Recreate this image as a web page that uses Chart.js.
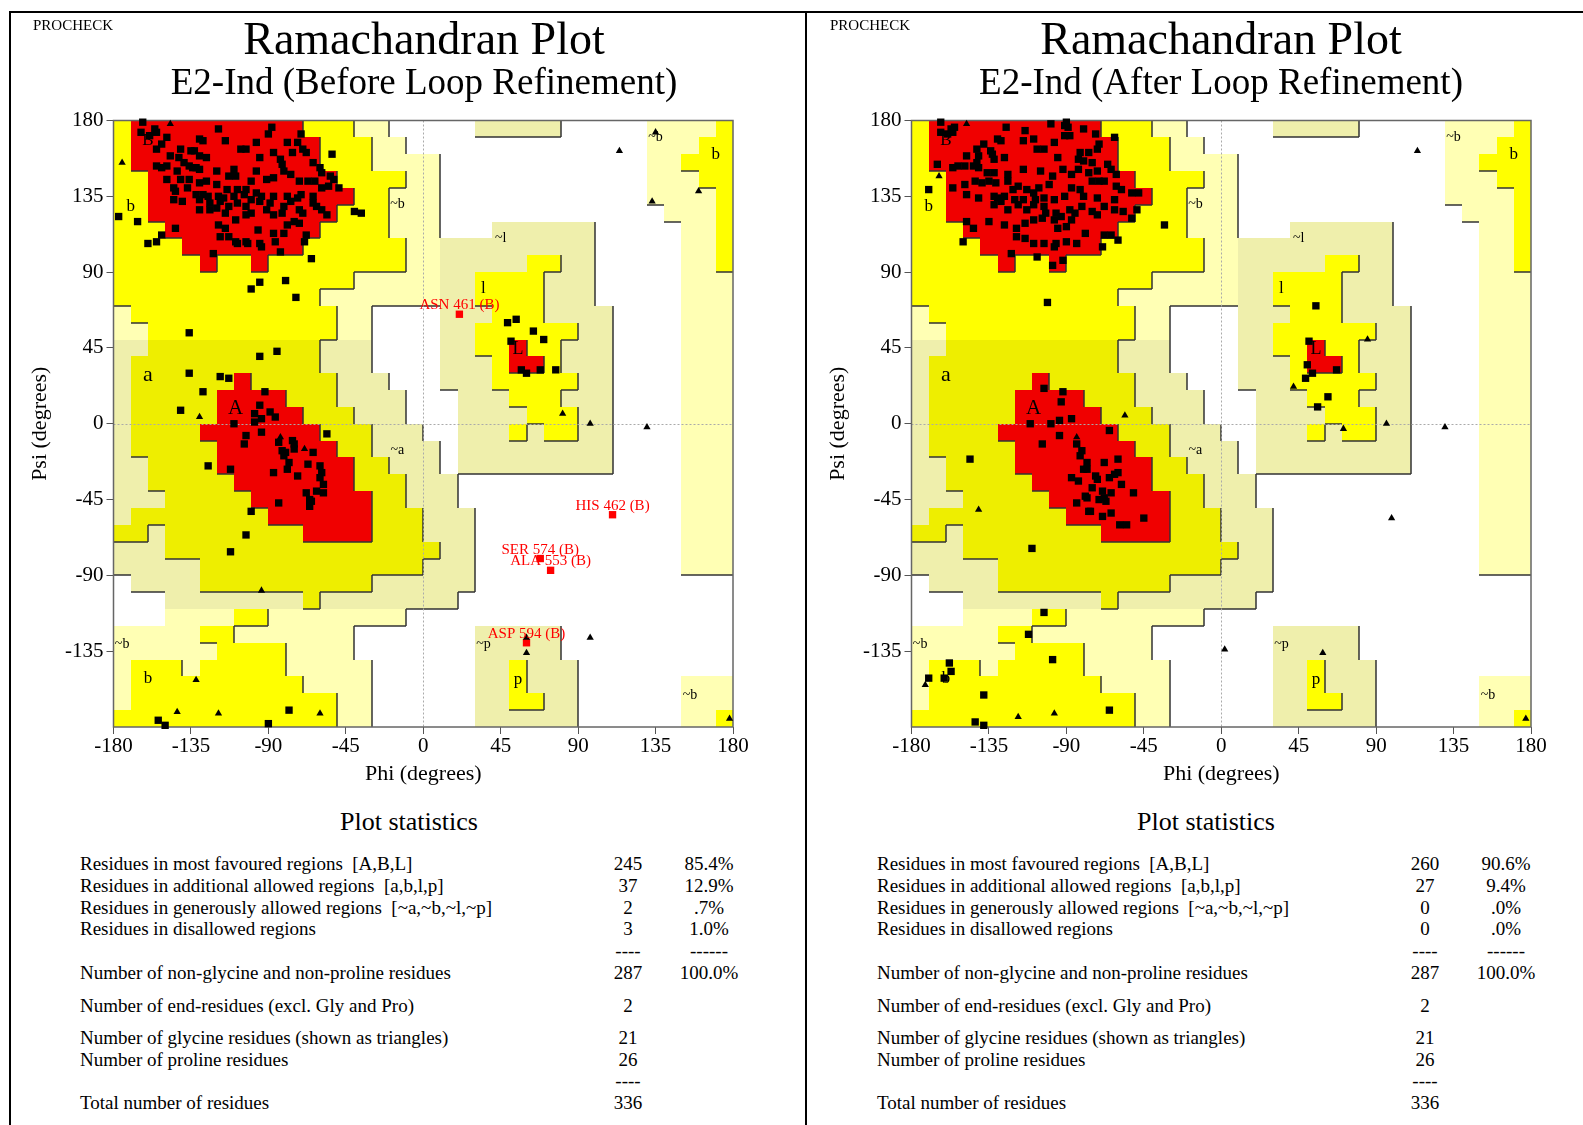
<!DOCTYPE html>
<html lang="en">
<head>
<meta charset="UTF-8">
<title>Ramachandran Plot</title>
<script src="https://cdn.jsdelivr.net/npm/chart.js"></script>
<style>
    body {
        margin: 0;
        background: #fff;
        font-family: "Liberation Serif", "Times New Roman", serif;
    }
    #page {
        position: relative;
        width: 1583px;
        height: 1125px;
        overflow: hidden;
    }
    #page canvas {
        position: absolute;
        top: 0;
    }
    .t {
        position: absolute;
        white-space: pre;
        line-height: 1;
        color: #000;
    }
    .rule {
        position: absolute;
        background: #000;
    }
</style>
</head>
<body>
<div id="page">
    <canvas id="before" width="800" height="800" style="left:0px"></canvas>
    <canvas id="after" width="800" height="800" style="left:798px"></canvas>
</div>

<script>
// ---- data ----
const phiTicks = [-180, -135, -90, -45, 0, 45, 90, 135, 180];
const psiTicks = [-135, -90, -45, 0, 45, 90, 135, 180];

// 10x10 degree cells, row 0 = psi 180..170, col 0 = phi -180..-170
// R core, Y/y allowed, P/K generous, . disallowed
const regionRows = [
    'YRRRRRRRRRRYYYPP.....KKKKK.....PPPPY',
    'YRRRRRRRRRRRYYYPP..............PPPYY',
    'YRRRRRRRRRRRYYYPPPP............PPYYY',
    'YYRRRRRRRRRRRYYYYPP............PPPYY',
    'YYRRRRRRRRRRRRYYPPP............PPPPY',
    'YYRRRRRRRRRRRYYYPPP.............PPPY',
    'YYYRRRRRRRRRYYYYPPP...KKKKKK.....PPY',
    'YYYYRRRRRRRYYYYYYPPKKKKKKKKK.....PPY',
    'YYYYYRYYRYYYYYYYYPPKKKKKYYKK.....PPY',
    'YYYYYYYYYYYYYYPPPPPKKYYYYKKK.....PPP',
    'YYYYYYYYYYYYPPPPPPPKKYYYYKKK.....PPP',
    'PYYYYYYYYYYYYPP....KKKYYYKKKK....PPP',
    'PPYYYYYYYYYYYPP....KKYYYYYYKK....PPP',
    'KKyyyyyyyyyyKKK....KKYYRYYKKK....PPP',
    'KyyyyyyyyyyyKKK....KKKYRRYKKK....PPP',
    'KyyyyyyRyyyyyKKK...KKKYYYYYKK....PPP',
    'KyyyyyRRRRyyyKKKK...KKKYYYKKK....PPP',
    'KyyyyyRRRRRyyyKKK...KKKKYYYKK....PPP',
    'KyyyyRRRRRRRyyyKKK..KKKYKYYKK....PPP',
    'KyyyyyRRRRRRRyyKKKK.KKKKKKKKK....PPP',
    'KKyyyyRRRRRRRRyyKKK.KKKKKKKKK....PPP',
    'KKyyyyyRRRRRRRyyyKKK.............PPP',
    'KKKyyyyyRRRRRRRyyKKK.............PPP',
    'KyyyyyyyyRRRRRRyyyKKK............PPP',
    'yyKyyyyyyyyRRRRyyyKKK............PPP',
    'KKKyyyyyyyyyyyyyyyyKK............PPP',
    'KKKKKyyyyyyyyyyyyyKKK............PPP',
    '.KKKKyyyyyyyyyyKKKKKK...............',
    '...KKKKKKKKyKKKKKKKK................',
    '...PPPPYYPPPPPPPP...................',
    'PPPPPYYPPPPPPP.......KKKKK..........',
    'PPPPPPYYYYPPPP.......KKKKK..........',
    'PYYYPYYYYYPPPPP......KKYKKK.........',
    'PYYYYYYYYYYPPPP......KKYKKK......PPP',
    'PYYYYYYYYYYYYPP......KKYYKK......PPP',
    'YYYYYYYYYYYYYPP......KKKKKK......PPY'
];

// region tags: [text, phi, psi]
const regionTags = [
    ['B', -160, 168], ['b', -170, 129], ['~b', -15, 130], ['a', -160, 29],
    ['A', -109, 9], ['~a', -15, -16], ['~l', 45, 110], ['l', 35, 80],
    ['L', 55, 44], ['~b', 135, 170], ['b', 170, 160], ['~b', -175, -131],
    ['b', -160, -151], ['~p', 35, -131], ['p', 55, -152], ['~b', 155, -161]
];

// before loop refinement: non-Gly residues [phi, psi]
const beforeSheet = [
    [-156,175],[-155,173],[-164,173],[-159,171],[-149,170],[-119,175],[-88,176],[-90,172],[-115,168],[-97,167],
    [-79,167],[-71,172],[-73,167],[-130,169],[-128,168],[-152,166],[-106,163],[-103,163],[-70,163],[-68,161],
    [-155,163],[-147,159],[-141,163],[-135,162],[-133,162],[-142,158],[-126,158],[-130,159],[-95,158],[-87,161],
    [-76,161],[-83,157],[-82,154],[-64,155],[-155,153],[-152,152],[-149,153],[-136,153],[-134,152],[-132,152],
    [-130,151],[-139,155],[-143,150],[-120,150],[-110,151],[-97,150],[-109,147],[-113,147],[-81,150],[-77,148],
    [-60,152],[-54,147],[-52,145],[-59,149],[-149,145],[-141,145],[-136,145],[-130,143],[-126,144],[-120,142],
    [-114,139],[-108,139],[-103,139],[-100,144],[-91,145],[-87,146],[-72,144],[-67,144],[-63,144],[-49,140],
    [-145,140],[-144,138],[-137,140],[-132,136],[-128,136],[-125,135],[-119,135],[-116,134],[-110,135],[-104,136],
    [-97,137],[-94,135],[-87,135],[-79,135],[-73,134],[-64,135],[-55,141],[-59,140],[-71,136],[-145,133],
    [-140,132],[-130,133],[-124,131],[-118,132],[-113,129],[-108,131],[-103,129],[-100,133],[-95,132],[-89,131],
    [-81,129],[-77,132],[-72,127],[-62,129],[-59,127],[-56,124],[-130,127],[-124,127],[-120,128],[-115,125],
    [-109,121],[-103,124],[-100,125],[-91,127],[-87,124],[-82,125],[-75,120],[-70,125],[-64,131],[-119,118],
    [-115,116],[-118,111],[-113,111],[-109,108],[-108,107],[-103,108],[-96,115],[-95,107],[-94,105],[-87,113],
    [-86,108],[-81,113],[-79,118],[-72,119],[-68,112],[-69,108],[-83,102],[-102,107]
];
const beforeOther = [
    [-163,179],[-177,123],[-166,120],[-160,107],[-155,108],[-152,112],[-144,116],[-122,101],[-100,80],[-95,84],
    [-80,85],[-74,75],[-65,98],[-53,160],[-40,126],[-36,125],[-136,54],[-95,40],[-85,43],[-136,30],
    [-118,28],[-113,27],[-128,19],[-141,8],[-154,-176],[-150,-179],[-90,-178],[-78,-170],
    [49,60],[54,62],[64,55],[70,50],[51,49],[57,32],[60,30],[68,32],[77,32]
];
const beforeHelix = [
    [-110,0],[-98,6],[-94,3],[-89,7],[-86,4],[-98,1],[-103,-7],[-104,-12],[-94,-5],[-84,-11],
    [-76,-10],[-75,-12],[-75,-15],[-82,-16],[-81,-19],[-80,-17],[-64,-17],[-56,-6],[-125,-25],[-112,-27],
    [-78,-23],[-79,-27],[-87,-29],[-73,-31],[-67,-24],[-60,-25],[-59,-29],[-60,-32],[-58,-36],[-62,-40],
    [-68,-41],[-58,-41],[-66,-45],[-65,-46],[-66,-49],[-84,-47],[-100,-52],[-103,-66],[-112,-76],[-92,19],
    [-95,11]
];
const beforeGly = [
    [-147,178],[-175,155],[-130,4],[-83,-8],[-69,-15],[-94,-99],[-132,-152],[-143,-171],[-119,-172],[-60,-172],
    [135,173],[114,162],[133,132],[160,138],[81,6],[97,0],[130,-2],[97,-127],[60,-136],[60,-127],[178,-175]
];
const beforeFlagged = [[21,65],[110,-54],[68,-80],[74,-87],[60,-130]];
const beforeFlaggedNames = ['ASN 461 (B)', 'HIS 462 (B)', 'SER 574 (B)', 'ALA 553 (B)', 'ASP 594 (B)'];

// after loop refinement
const afterSheet = [
    [-157,175],[-156,173],[-155,176],[-163,173],[-159,172],[-125,176],[-114,174],[-99,178],[-91,177],[-89,176],
    [-88,171],[-80,175],[-73,172],[-115,168],[-109,169],[-97,167],[-91,171],[-130,169],[-128,168],[-138,166],
    [-142,163],[-62,170],[-163,179],[-90,179],[-148,159],[-141,159],[-142,155],[-134,162],[-133,160],[-132,157],
    [-126,158],[-107,163],[-103,163],[-95,158],[-82,161],[-77,161],[-83,157],[-80,156],[-72,163],[-71,166],
    [-75,155],[-66,154],[-156,152],[-153,153],[-149,153],[-144,153],[-141,152],[-136,149],[-132,149],[-124,148],
    [-115,151],[-105,150],[-98,147],[-92,151],[-87,148],[-83,151],[-77,149],[-72,150],[-64,151],[-61,148],
    [-165,154],[-170,139],[-156,140],[-149,142],[-143,144],[-139,143],[-135,144],[-131,143],[-124,144],[-121,139],
    [-118,141],[-113,139],[-109,137],[-106,140],[-100,142],[-87,140],[-82,139],[-75,144],[-71,144],[-68,144],
    [-61,141],[-58,139],[-52,137],[-48,137],[-148,136],[-141,134],[-132,135],[-130,134],[-128,132],[-126,135],
    [-120,133],[-115,133],[-108,133],[-103,134],[-97,133],[-91,135],[-80,135],[-72,134],[-62,133],[-132,130],
    [-124,127],[-118,130],[-113,127],[-109,130],[-103,129],[-102,125],[-96,125],[-93,123],[-88,127],[-85,125],
    [-81,129],[-75,126],[-72,124],[-68,129],[-62,127],[-57,126],[-52,122],[-49,127],[-148,120],[-144,116],
    [-135,120],[-126,118],[-119,116],[-114,119],[-109,121],[-104,122],[-97,121],[-95,116],[-90,117],[-87,121],
    [-119,111],[-114,110],[-109,107],[-103,107],[-97,105],[-96,107],[-90,108],[-84,107],[-79,113],[-68,112],
    [-64,112],[-60,109],[-69,105],[-150,108],[-122,101],[-107,99],[-98,94],[-92,97]
];
const afterOther = [
    [-33,118],[-101,72],[-103,21],[-92,19],[-93,13],
    [-103,-112],[-112,-125],[-98,-140],[-158,-142],[-157,-147],[-170,-151],[-161,-151],[-138,-161],[-65,-170],[-143,-177],
    [-138,-179],[55,70],[51,49],[50,35],[53,30],[49,27],[67,32],[62,16],[56,10]
];
const afterHelix = [
    [-111,0],[-99,0],[-94,2],[-87,3],[-65,-4],[-94,-7],[-84,-12],[-104,-12],[-81,-16],[-82,-19],
    [-78,-23],[-68,-23],[-60,-21],[-80,-27],[-78,-27],[-87,-32],[-83,-34],[-73,-31],[-72,-33],[-65,-32],
    [-62,-30],[-60,-29],[-58,-36],[-75,-38],[-79,-43],[-78,-44],[-69,-40],[-68,-44],[-64,-41],[-71,-45],
    [-67,-46],[-84,-47],[-77,-52],[-76,-52],[-69,-55],[-64,-53],[-59,-60],[-55,-60],[-51,-41],[-45,-56],
    [-146,-21],[-110,-74]
];
const afterGly = [
    [-148,178],[-164,147],[-84,-8],[-141,-51],[-56,5],[-172,-155],[-118,-174],[-97,-172],[114,162],[85,50],
    [42,22],[96,0],[130,-2],[71,-3],[99,-56],[2,-134],[59,-136],[177,-175]
];

// plot statistics
const statLabels = [
    'Residues in most favoured regions  [A,B,L]',
    'Residues in additional allowed regions  [a,b,l,p]',
    'Residues in generously allowed regions  [~a,~b,~l,~p]',
    'Residues in disallowed regions',
    'Number of non-glycine and non-proline residues',
    'Number of end-residues (excl. Gly and Pro)',
    'Number of glycine residues (shown as triangles)',
    'Number of proline residues',
    'Total number of residues'
];
const beforeCounts = ['245', '37', '2', '3', '287', '2', '21', '26', '336'];
const beforePercents = ['85.4%', '12.9%', '.7%', '1.0%', '100.0%'];
const afterCounts = ['260', '27', '0', '0', '287', '2', '21', '26', '336'];
const afterPercents = ['90.6%', '9.4%', '.0%', '.0%', '100.0%'];

// ---- styles ----
const FONT = '"Liberation Serif", "Times New Roman", serif';
const regionColours = { R: '#f00000', Y: '#ffff00', y: '#eeee00', P: '#ffffb4', K: '#efefac' };
const regionLevel = { R: 3, Y: 2, y: 2, P: 1, K: 1, '.': 0 };
const tagSizes = { B: 17, A: 21, a: 22, b: 17, L: 18, l: 17, p: 17 };

Chart.defaults.font.family = FONT;

function regionPlugin(flagged, names) {
    return {
        id: 'regions',
        beforeDatasetsDraw(chart) {
            const { ctx, chartArea: a, scales: { x, y } } = chart;
            const px = v => Math.round(x.getPixelForValue(v));
            const py = v => Math.round(y.getPixelForValue(v));
            ctx.save();
            regionRows.forEach((row, r) => {
                for (let c = 0; c < row.length; c++) {
                    const col = regionColours[row[c]];
                    if (!col) continue;
                    const x0 = px(-180 + 10 * c), x1 = px(-170 + 10 * c);
                    const y0 = py(180 - 10 * r), y1 = py(170 - 10 * r);
                    ctx.fillStyle = col;
                    ctx.fillRect(x0, y0, x1 - x0, y1 - y0);
                }
            });
            // dark edges on the lower/right side of higher regions
            ctx.strokeStyle = '#333';
            ctx.lineWidth = 1.5;
            ctx.beginPath();
            regionRows.forEach((row, r) => {
                for (let c = 0; c < row.length; c++) {
                    const lv = regionLevel[row[c]];
                    if (c < row.length - 1 && lv > regionLevel[row[c + 1]]) {
                        const xx = px(-170 + 10 * c);
                        ctx.moveTo(xx, py(180 - 10 * r));
                        ctx.lineTo(xx, py(170 - 10 * r));
                    }
                    if (r < regionRows.length - 1 && lv > regionLevel[regionRows[r + 1][c]]) {
                        const yy = py(170 - 10 * r);
                        ctx.moveTo(px(-180 + 10 * c), yy);
                        ctx.lineTo(px(-170 + 10 * c), yy);
                    }
                }
            });
            ctx.stroke();

            // zero lines
            ctx.strokeStyle = '#aaa';
            ctx.lineWidth = 1;
            ctx.setLineDash([2, 2]);
            ctx.beginPath();
            ctx.moveTo(px(0) + 0.5, a.top);
            ctx.lineTo(px(0) + 0.5, a.bottom);
            ctx.moveTo(a.left, py(0) + 0.5);
            ctx.lineTo(a.right, py(0) + 0.5);
            ctx.stroke();
            ctx.setLineDash([]);

            // region tags
            ctx.fillStyle = '#000';
            ctx.textAlign = 'center';
            ctx.textBaseline = 'middle';
            regionTags.forEach(([txt, phi, psi]) => {
                const size = tagSizes[txt] || 14;
                ctx.font = size + 'px ' + FONT;
                ctx.fillText(txt, x.getPixelForValue(phi), y.getPixelForValue(psi));
            });

            // frame
            ctx.strokeStyle = '#666';
            ctx.lineWidth = 1.5;
            ctx.strokeRect(a.left, a.top, a.right - a.left, a.bottom - a.top);
            ctx.restore();
        },
        afterDatasetsDraw(chart) {
            if (!names) return;
            const { ctx, scales: { x, y } } = chart;
            ctx.save();
            ctx.fillStyle = '#ff0000';
            ctx.font = '15px ' + FONT;
            ctx.textAlign = 'center';
            ctx.textBaseline = 'alphabetic';
            flagged.forEach((p, i) => {
                ctx.fillText(names[i], x.getPixelForValue(p[0]), y.getPixelForValue(p[1]) - 5);
            });
            ctx.restore();
        }
    };
}

function buildChart(id, squares, triangles, flagged, names) {
    const toPts = arr => arr.map(p => ({ x: p[0], y: p[1] }));
    const datasets = [
        { data: toPts(squares), pointStyle: 'rect', pointRadius: 5.2, backgroundColor: '#000', borderWidth: 0, clip: false },
        { data: toPts(triangles), pointStyle: 'triangle', pointRadius: 4.2, backgroundColor: '#000', borderWidth: 0, clip: false }
    ];
    if (flagged) {
        datasets.push({ data: toPts(flagged), pointStyle: 'rect', pointRadius: 5.2, backgroundColor: '#ff0000', borderWidth: 0, clip: false });
    }
    return new Chart(document.getElementById(id), {
        type: 'scatter',
        data: { datasets: datasets },
        options: {
            responsive: false,
            animation: false,
            devicePixelRatio: 1,
            layout: { autoPadding: false, padding: { left: 23.5, top: 120.5, right: 67, bottom: 9 } },
            plugins: { legend: { display: false }, tooltip: { enabled: false } },
            events: [],
            scales: {
                x: {
                    type: 'linear', min: -180, max: 180,
                    afterBuildTicks: s => { s.ticks = phiTicks.map(v => ({ value: v })); },
                    afterFit: s => { s.height = 64; },
                    ticks: { autoSkip: false, maxRotation: 0, padding: 0, color: '#000', font: { size: 21 }, callback: v => String(v) },
                    grid: { drawOnChartArea: false, tickLength: 7, color: '#555' },
                    border: { display: false },
                    title: { display: true, text: 'Phi (degrees)', color: '#000', font: { size: 22 }, padding: { top: 4, bottom: 4 } }
                },
                y: {
                    type: 'linear', min: -180, max: 180,
                    afterBuildTicks: s => { s.ticks = psiTicks.map(v => ({ value: v })); },
                    afterFit: s => { s.width = 90; },
                    ticks: { autoSkip: false, padding: 3, color: '#000', font: { size: 21 }, callback: v => String(v) },
                    grid: { drawOnChartArea: false, tickLength: 7, color: '#555' },
                    border: { display: false },
                    title: { display: true, text: 'Psi (degrees)', color: '#000', font: { size: 22 }, padding: { top: 4, bottom: 4 } }
                }
            }
        },
        plugins: [regionPlugin(flagged, names)]
    });
}

buildChart('before', beforeSheet.concat(beforeHelix, beforeOther), beforeGly, beforeFlagged, beforeFlaggedNames);
buildChart('after', afterSheet.concat(afterHelix, afterOther), afterGly, null, null);

// ---- page text ----
const page = document.getElementById('page');

function addText(str, x, baseline, size, align) {
    const d = document.createElement('div');
    d.className = 't';
    d.textContent = str;
    d.style.fontSize = size + 'px';
    d.style.top = (baseline - 0.8375 * size) + 'px';
    d.style.left = x + 'px';
    if (align === 'center') d.style.transform = 'translateX(-50%)';
    page.appendChild(d);
}

function addRule(left, top, width, height) {
    const d = document.createElement('div');
    d.className = 'rule';
    d.style.left = left + 'px';
    d.style.top = top + 'px';
    d.style.width = width + 'px';
    d.style.height = height + 'px';
    page.appendChild(d);
}

addRule(9, 11, 1574, 2);
addRule(9, 11, 2, 1114);
addRule(805, 11, 2, 1114);

function addPanel(dx, subtitle, counts, percents) {
    addText('PROCHECK', 33 + dx, 30.5, 15);
    addText('Ramachandran Plot', 424 + dx, 55, 46, 'center');
    addText(subtitle, 424 + dx, 93.5, 37, 'center');
    addText('Plot statistics', 409 + dx, 831, 26, 'center');

    const baselines = [870, 892, 914, 935, 979, 1012, 1044, 1066, 1109];
    statLabels.forEach((lab, i) => {
        addText(lab, 80 + dx, baselines[i], 19);
        addText(counts[i], 628 + dx, baselines[i], 19, 'center');
        if (i < percents.length) addText(percents[i], 709 + dx, baselines[i], 19, 'center');
    });
    addText('----', 628 + dx, 957, 19, 'center');
    addText('------', 709 + dx, 957, 19, 'center');
    addText('----', 628 + dx, 1087, 19, 'center');
}

addPanel(0, 'E2-Ind (Before Loop Refinement)', beforeCounts, beforePercents);
addPanel(797, 'E2-Ind (After Loop Refinement)', afterCounts, afterPercents);
</script>
</body>
</html>
